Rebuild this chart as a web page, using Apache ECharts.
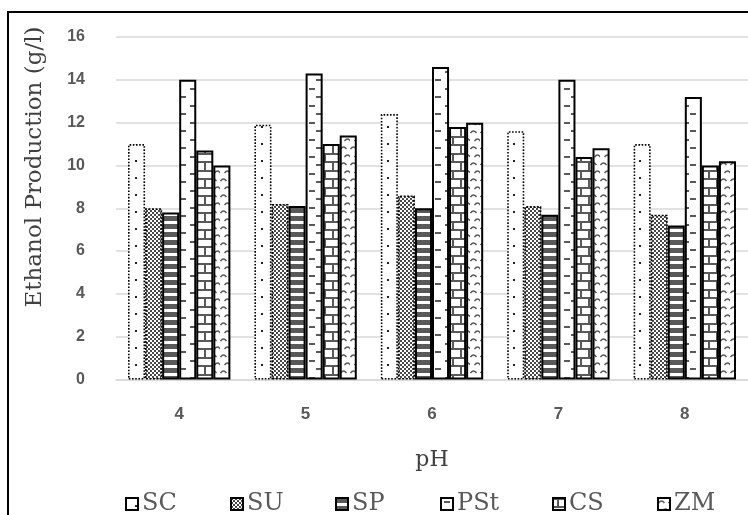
<!DOCTYPE html>
<html>
<head>
<meta charset="utf-8">
<script src="https://cdn.jsdelivr.net/npm/echarts@6/dist/echarts.min.js"></script>
<style>
  html, body { margin: 0; padding: 0; background: #fff; }
  #chart { width: 748px; height: 515px; }
</style>
</head>
<body>
<div id="chart"></div>
<script>
// pH levels on the category axis
const categories = ['4', '5', '6', '7', '8'];

// Ethanol production (g/l) for each substrate
const SC  = [11.0, 11.9, 12.4, 11.6, 11.0];
const SU  = [8.0, 8.2, 8.6, 8.1, 7.7];
const SP  = [7.8, 8.1, 8.0, 7.7, 7.2];
const PSt = [14.0, 14.3, 14.6, 14.0, 13.2];
const CS  = [10.7, 11.0, 11.8, 10.4, 10.0];
const ZM  = [10.0, 11.4, 12.0, 10.8, 10.2];

const seriesNames = ['SC', 'SU', 'SP', 'PSt', 'CS', 'ZM'];
const seriesValues = [SC, SU, SP, PSt, CS, ZM];

const yTicks = { min: 0, max: 16, interval: 2 };

const DARK = '#595959';
const TITLE = '#404040';
const SERIF = 'DejaVu Serif';

// Small canvas tiles used as monochrome fill patterns
function tile(w, h, draw) {
  const c = document.createElement('canvas');
  c.width = w; c.height = h;
  const ctx = c.getContext('2d');
  ctx.fillStyle = '#fff';
  ctx.fillRect(0, 0, w, h);
  ctx.fillStyle = DARK;
  ctx.strokeStyle = DARK;
  draw(ctx);
  return { image: c, repeat: 'repeat' };
}

const patterns = {
  // sparse dots
  SC: tile(18, 17, ctx => {
    ctx.fillStyle = '#222';
    ctx.fillRect(9, 7, 2, 2);
  }),
  // fine checker
  SU: tile(4, 4, ctx => {
    ctx.fillStyle = '#4a4a4a';
    ctx.fillRect(0, 0, 2, 2);
    ctx.fillRect(2, 2, 2, 2);
  }),
  // wide horizontal stripes
  SP: tile(8, 8, ctx => {
    ctx.fillRect(0, 0, 8, 5);
  }),
  // staggered short dashes
  PSt: tile(17, 17, ctx => {
    ctx.fillRect(3, 3, 6, 2);
    ctx.fillRect(10, 11, 6, 2);
  }),
  // brick
  CS: tile(16, 17, ctx => {
    ctx.fillRect(0, 0, 16, 2);
    ctx.fillRect(0, 8, 16, 2);
    ctx.fillRect(4, 0, 2, 8);
    ctx.fillRect(12, 8, 2, 9);
  }),
  // small staggered arcs
  ZM: tile(10, 16, ctx => {
    ctx.lineWidth = 1.4;
    ctx.beginPath();
    ctx.moveTo(0.5, 5);
    ctx.quadraticCurveTo(3.5, 1, 6.5, 5);
    ctx.moveTo(4.5, 13);
    ctx.quadraticCurveTo(7.5, 9, 10.5, 13);
    ctx.stroke();
  })
};

const borders = {
  SC:  { borderColor: '#000', borderWidth: 1.6, borderType: [1.6, 1.6] },
  SU:  { borderColor: '#000', borderWidth: 1.6, borderType: [2, 1.5] },
  SP:  { borderColor: '#000', borderWidth: 2, borderType: 'solid' },
  PSt: { borderColor: '#000', borderWidth: 2, borderType: 'solid' },
  CS:  { borderColor: '#000', borderWidth: 2, borderType: 'solid' },
  ZM:  { borderColor: '#000', borderWidth: 2, borderType: 'solid' }
};

const legendLefts = [120, 225, 330, 435, 547, 652];

const series = seriesNames.map((name, i) => ({
  name: name,
  type: 'bar',
  data: seriesValues[i],
  barGap: '0%',
  barCategoryGap: '19%',
  itemStyle: Object.assign({ color: patterns[name] }, borders[name]),
  emphasis: { disabled: true }
}));

const legends = seriesNames.map((name, i) => ({
  data: [name],
  left: legendLefts[i],
  top: 487,
  itemWidth: 12,
  itemHeight: 12,
  itemGap: 0,
  icon: 'rect',
  selectedMode: false,
  textStyle: { fontFamily: SERIF, fontSize: 24, color: DARK, padding: [0, 0, 0, -1] }
}));

const chart = echarts.init(document.getElementById('chart'), null, { renderer: 'canvas' });

chart.setOption({
  animation: false,
  backgroundColor: '#fff',
  grid: { left: 116, right: 0, top: 37, bottom: 135.5, containLabel: false },
  legend: legends,
  graphic: [
    {
      type: 'rect',
      shape: { x: 8, y: 12, width: 800, height: 600 },
      style: { fill: 'none', stroke: '#000', lineWidth: 2 },
      silent: true,
      z: 100
    },
    {
      // y-axis title
      type: 'text',
      x: 35,
      y: 167,
      rotation: Math.PI / 2,
      style: {
        text: 'Ethanol Production (g/l)',
        fontFamily: SERIF,
        fontSize: 23,
        fill: TITLE,
        align: 'center',
        verticalAlign: 'middle'
      },
      silent: true
    }
  ],
  xAxis: {
    type: 'category',
    data: categories,
    name: 'pH',
    nameLocation: 'middle',
    nameGap: 70,
    nameTextStyle: { fontFamily: SERIF, fontSize: 22, color: TITLE },
    axisLine: { lineStyle: { color: '#d9d9d9', width: 1.5 } },
    axisTick: { show: false },
    axisLabel: { margin: 26, fontFamily: 'Liberation Sans', fontWeight: 'bold', fontSize: 17, color: DARK }
  },
  yAxis: {
    type: 'value',
    min: yTicks.min,
    max: yTicks.max,
    interval: yTicks.interval,
    axisLine: { show: false },
    axisTick: { show: false },
    splitLine: { lineStyle: { color: '#d9d9d9', width: 1.5 } },
    axisLabel: { margin: 31, fontFamily: 'Liberation Sans', fontWeight: 'bold', fontSize: 16, color: DARK }
  },
  series: series
});
</script>
</body>
</html>
